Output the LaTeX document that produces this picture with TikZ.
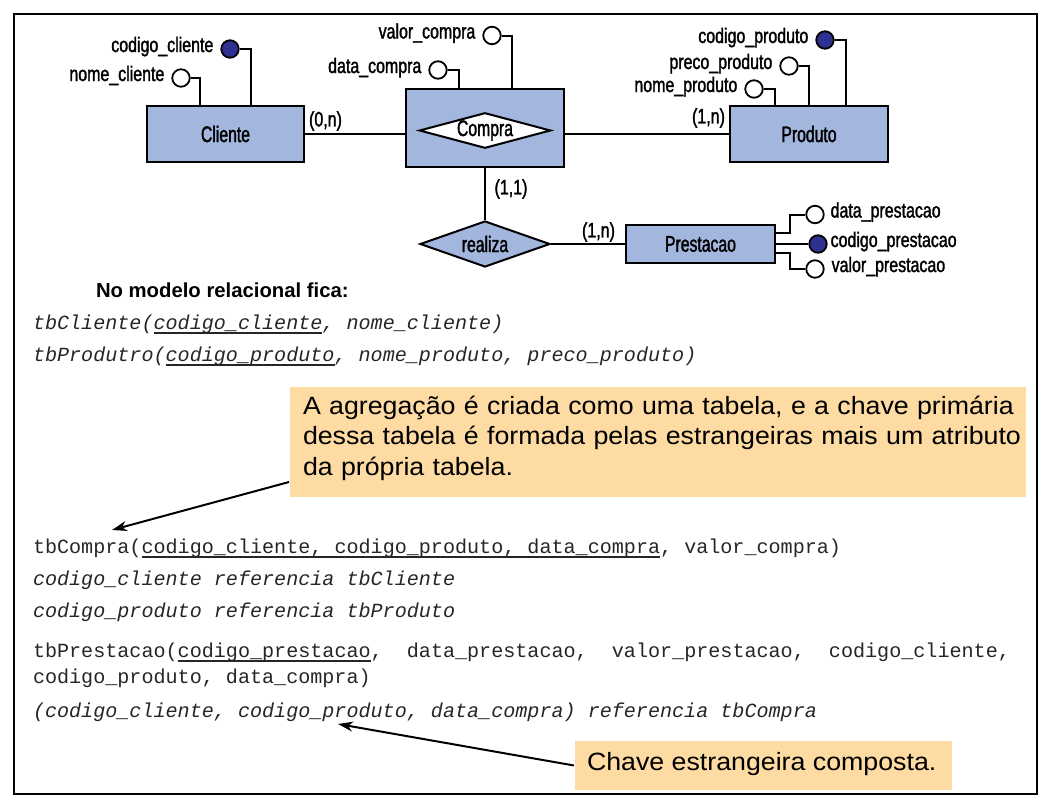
\documentclass[tikz,border=0pt]{standalone}
\usepackage{fontspec}
\setmainfont{Liberation Sans}
\setmonofont{Liberation Mono}
\newfontfamily\erfont[FakeStretch=0.76,FakeBold=1.5]{Liberation Sans}
\newfontfamily\erbig[FakeStretch=0.7,FakeBold=1.5]{Liberation Sans}
\newfontfamily\callfont[FakeStretch=1.07]{Liberation Sans}
\usetikzlibrary{shapes.geometric,arrows.meta}
\definecolor{erblue}{HTML}{A3B6DE}
\definecolor{keyblue}{HTML}{2E3192}
\definecolor{callfill}{HTML}{FDDBA2}
\newcommand\ulk[1]{\setbox0\hbox{#1}\rlap{\rule[-4.5pt]{\wd0}{1.1pt}}\box0}
\tikzset{
  erbox/.style={draw, fill=erblue, line width=2.4pt, inner sep=0pt, font=\erbig\fontsize{22.5}{26}\selectfont},
  reldia/.style={diamond, draw, line width=2pt, aspect=3.7, inner sep=0pt, minimum width=130pt, font=\erbig\fontsize{22.5}{26}\selectfont},
  attro/.style={circle, draw, fill=white, line width=1.8pt, minimum size=17.5pt, inner sep=0pt},
  attrk/.style={attro, fill=keyblue},
  alabl/.style={font=\erfont\fontsize{21}{24}\selectfont, inner sep=0pt, anchor=base east},
  alabr/.style={font=\erfont\fontsize{21}{24}\selectfont, inner sep=0pt, anchor=base west},
  card/.style={font=\erfont\fontsize{21}{24}\selectfont, inner sep=0pt},
  code/.style={font=\ttfamily\fontsize{20.1}{24}\selectfont, text=black!85, inner sep=0pt, anchor=base west},
  callbox/.style={fill=callfill, draw=none, inner sep=0pt, anchor=north west},
  calltext/.style={font=\callfont\fontsize{25}{30.5}\selectfont, inner sep=0pt, anchor=base west},
  arr/.style={-{Stealth[length=15pt,width=10pt]}, line width=2pt},
}
\begin{document}
\begin{tikzpicture}[x=1pt, y=-1pt, line width=2pt]
\useasboundingbox[fill=white] (0,0) rectangle (1058,806);
\draw[line width=2pt] (14,14) rectangle (1037,794);

% entities
\node[erbox, minimum width=157pt, minimum height=56pt] (cliente) at (225.5,134) {Cliente};
\node[erbox, minimum width=158pt, minimum height=78pt] (compra) at (485,128) {};
\node[reldia, fill=white, minimum height=35pt] (compradia) at (485,130.5) {Compra};
\node[erbox, minimum width=158pt, minimum height=56pt] (produto) at (809,134) {Produto};
\node[reldia, fill=erblue, minimum height=46pt] (realiza) at (485,244) {realiza};
\node[erbox, minimum width=149pt, minimum height=38pt] (prestacao) at (700.5,244) {Prestacao};

% relationships
\draw (cliente.east) -- (cliente.east -| compra.west);
\draw (compra.east |- produto.west) -- (produto.west);
\draw (compra.south) -- (realiza.north);
\draw (realiza.east) -- (prestacao.west);

\node[card] (c0n) at (325.5,121) {(0,n)};
\node[card] (c1n) at (708.5,118) {(1,n)};
\node[card] (c11) at (511,189) {(1,1)};
\node[card] (c1nb) at (598.5,232) {(1,n)};

% attributes of Cliente
\node[attrk] (acc) at (230,49) {};
\node[attro] (anc) at (181,78) {};
\draw (acc.east) -| ([xshift=25.5pt]cliente.north);
\draw (anc.east) -| ([xshift=-25.5pt]cliente.north);
\node[alabl] (tcc) at ([xshift=-6pt,yshift=-3pt]acc.west) {codigo\_cliente};
\node[alabl] (tnc) at ([xshift=-6pt,yshift=-3pt]anc.west) {nome\_cliente};

% attributes of Compra
\node[attro] (avc) at (492,35.5) {};
\node[attro] (adc) at (438,70) {};
\draw (avc.east) -| ([xshift=27pt]compra.north);
\draw (adc.east) -| ([xshift=-26pt]compra.north);
\node[alabl] (tvc) at ([xshift=-6pt,yshift=-3pt]avc.west) {valor\_compra};
\node[alabl] (tdc) at ([xshift=-6pt,yshift=-3pt]adc.west) {data\_compra};

% attributes of Produto
\node[attrk] (acp) at (825,40) {};
\node[attro] (app) at (789,66) {};
\node[attro] (anp) at (754,89) {};
\draw (acp.east) -| ([xshift=37pt]produto.north);
\draw (app.east) -| (produto.north);
\draw (anp.east) -| ([xshift=-34pt]produto.north);
\node[alabl] (tcp) at ([xshift=-6pt,yshift=-3pt]acp.west) {codigo\_produto};
\node[alabl] (tpp) at ([xshift=-6pt,yshift=-3pt]app.west) {preco\_produto};
\node[alabl] (tnp) at ([xshift=-6pt,yshift=-3pt]anp.west) {nome\_produto};

% attributes of Prestacao
\node[attro] (adp) at (815,214.5) {};
\node[attrk] (acpr) at (818,244) {};
\node[attro] (avp) at (815,269) {};
\draw ([yshift=11pt]prestacao.east) -- ++(14,0) |- (adp.west);
\draw (prestacao.east) -- (acpr.west);
\draw ([yshift=-9pt]prestacao.east) -- ++(14,0) |- (avp.west);
\node[alabr] (tdp) at ([xshift=5pt,yshift=-3pt]adp.east) {data\_prestacao};
\node[alabr] (tcpr) at ([xshift=2pt,yshift=-3pt]acpr.east) {codigo\_prestacao};
\node[alabr] (tvp) at ([xshift=6pt,yshift=-3pt]avp.east) {valor\_prestacao};

% relational model
\node[font=\bfseries\fontsize{20.3}{24}\selectfont, inner sep=0pt, anchor=base west] (titulo) at (95,297) {No modelo relacional fica:};
\node[code] (l1) at (32,329) {\itshape tbCliente(\ulk{codigo\_cliente}, nome\_cliente)};
\node[code] (l2) at (32,361) {\itshape tbProdutro(\ulk{codigo\_produto}, nome\_produto, preco\_produto)};
\node[code] (l3) at (32,553) {tbCompra(\ulk{codigo\_cliente, codigo\_produto, data\_compra}, valor\_compra)};
\node[code] (l4) at (32,585) {\itshape codigo\_cliente referencia tbCliente};
\node[code] (l5) at (32,617) {\itshape codigo\_produto referencia tbProduto};
\node[code] (l6) at (32,657) {tbPrestacao(\ulk{codigo\_prestacao},\ \ data\_prestacao,\ \ valor\_prestacao,\ \ codigo\_cliente,};
\node[code] (l7) at (32,683) {codigo\_produto, data\_compra)};
\node[code] (l8) at (32,717) {\itshape (codigo\_cliente, codigo\_produto, data\_compra) referencia tbCompra};

% callouts
\node[callbox, minimum width=736pt, minimum height=110pt] (c1) at (289,386) {};
\node[calltext, text width=720pt, align=left] (c1t) at (302,414) {A agregação é criada como uma tabela, e a chave primária\\dessa tabela é formada pelas estrangeiras mais um atributo\\da própria tabela.};
\coordinate (t1) at (112,530);
\draw[arr] ([yshift=-40pt]c1.west) -- (t1);

\node[callbox, minimum width=377pt, minimum height=49pt] (c2) at (574,740) {};
\node[calltext] (c2t) at (586,770) {Chave estrangeira composta.};
\coordinate (t2) at (338,724);
\draw[arr] (c2.west) -- (t2);
\end{tikzpicture}
\end{document}
